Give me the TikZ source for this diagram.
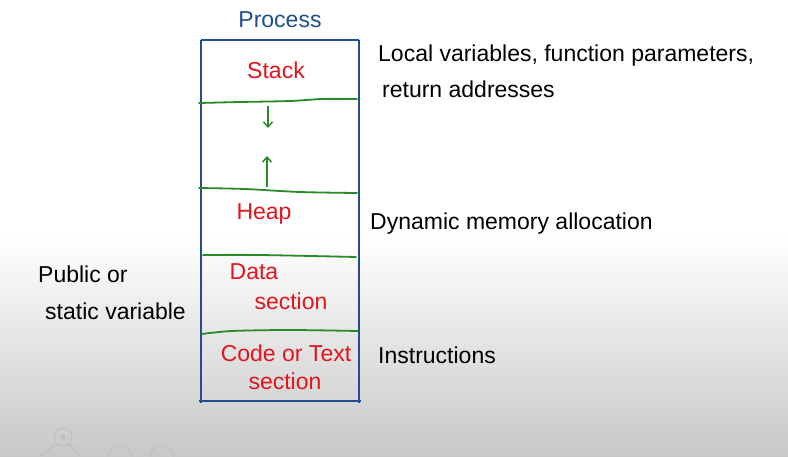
\documentclass[tikz,border=0pt]{standalone}
\usepackage{fontspec}
\setmainfont{Liberation Sans}
\usetikzlibrary{arrows.meta}
\definecolor{boxblue}{HTML}{1F4F8F}
\definecolor{segred}{HTML}{E3141B}
\definecolor{linegreen}{HTML}{2A8A2A}
\definecolor{bggray}{HTML}{C8C8C8}
\definecolor{wm}{HTML}{BDBDBD}
\tikzset{
  hand/.style={inner sep=0pt, font=\fontsize{23}{27}\selectfont},
  segtext/.style={hand, text=segred},
  note/.style={hand, text=black, anchor=west},
  divider/.style={draw=linegreen, line width=1.8pt, line cap=round},
  growarrow/.style={draw=linegreen, line width=1.5pt, -{Straight Barb[length=5pt,width=9pt]}},
}
\begin{document}
\begin{tikzpicture}[x=1pt,y=-1pt]
\useasboundingbox (0,0) rectangle (788,456);
% background
\fill[white] (0,0) rectangle (788,456);
\shade[top color=white, bottom color=bggray] (0,235) rectangle (788,456);
% faint watermark
\draw[wm, line width=0.8pt] (63,437) circle (9);
\fill[wm] (63,437) circle (2.5);
\draw[wm, line width=0.8pt] (57,444) -- (40,456) (69,444) -- (80,456);
\draw[wm, line width=0.8pt] (108,458) arc (180:360:12);
\draw[wm, line width=0.8pt] (150,458) arc (180:360:12);
% process box
\draw[boxblue, line width=1.6pt] (201,40) -- (359,40);
\draw[boxblue, line width=1.6pt] (201,40) -- (201,403);
\draw[boxblue, line width=1.6pt] (359,40) -- (359,403);
\draw[boxblue, line width=1.6pt] (199,401) -- (361,401);
% dividers
\draw[divider] plot[smooth] coordinates {(199,103) (240,102) (290,101) (322,99) (357,99)};
\draw[divider] plot[smooth] coordinates {(199,188) (245,189) (300,192) (357,193)};
\draw[divider] plot[smooth] coordinates {(203,255) (260,255) (356,257)};
\draw[divider] plot[smooth] coordinates {(202,334) (232,331) (290,330) (358,331)};
% title
\node[hand, text=boxblue] (title) at (280,20) {Process};
% segments
\node[segtext] (stack) at (276,70) {Stack};
\coordinate (dtop) at (268,106);
\coordinate (dbot) at (268,128);
\draw[growarrow] (dtop) -- (dbot);
\coordinate (ubot) at (267,187);
\coordinate (utop) at (267,156);
\draw[growarrow] (ubot) -- (utop);
\node[segtext] (heap) at (264,214) {Heap};
\node[segtext] (data1) at (254,272) {Data};
\node[segtext] (data2) at (291,301) {section};
\node[segtext] (code1) at (286,353) {Code or Text};
\node[segtext] (code2) at (285,381) {section};
% notes
\node[note] (local1) at (378,56) {Local variables, function parameters,};
\node[note] (local2) at (382,89) {return addresses};
\node[note] (dyn) at (370,224) {Dynamic memory allocation};
\node[note] (instr) at (378,355) {Instructions};
\node[note] (pub1) at (38,274) {Public or};
\node[note] (pub2) at (45,311) {static variable};
\end{tikzpicture}
\end{document}
